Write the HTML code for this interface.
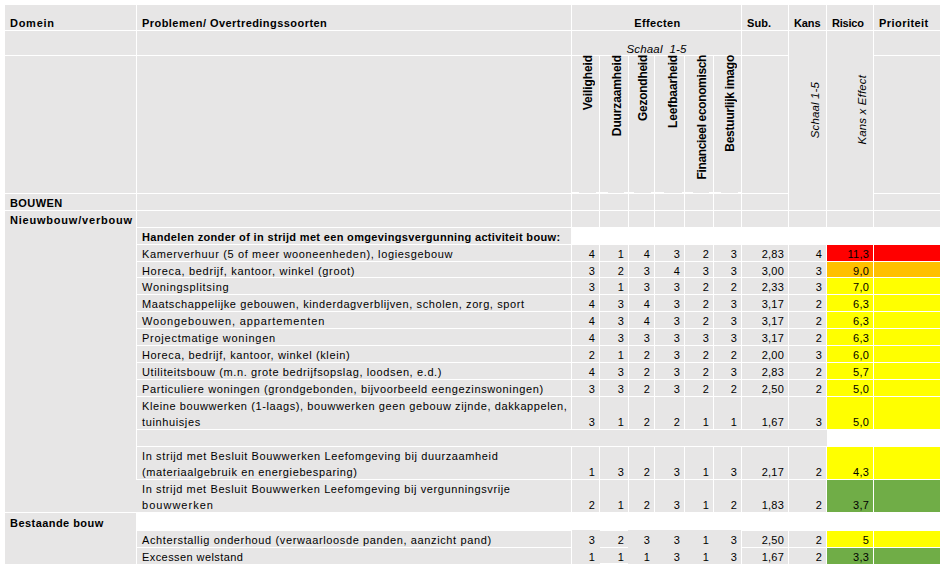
<!DOCTYPE html>
<html><head><meta charset="utf-8"><title>Risicoanalyse</title>
<style>
html,body{margin:0;padding:0;background:#fff}
body{width:943px;height:567px;position:relative;overflow:hidden;font-family:"Liberation Sans",sans-serif;font-size:11px;color:#000}
.r{position:absolute}
.t{position:absolute;white-space:nowrap;line-height:16px;height:16px;letter-spacing:0.62px}
.b{font-weight:bold;letter-spacing:0.45px}
.i{font-style:italic;font-size:11.5px;letter-spacing:0.03px}
.c{text-align:center}
.n{text-align:right;letter-spacing:0.2px}
.v{writing-mode:vertical-rl;transform:rotate(180deg);width:16px;height:auto;line-height:16px;font-size:12px}
.v.i{font-size:11.5px}
</style></head><body>
<div class="r" style="left:5px;top:5px;width:131px;height:25px;background:#e7e6e6"></div>
<div class="r" style="left:137px;top:5px;width:434px;height:25px;background:#e7e6e6"></div>
<div class="r" style="left:742px;top:5px;width:46px;height:25px;background:#e7e6e6"></div>
<div class="r" style="left:874px;top:5px;width:66px;height:25px;background:#e7e6e6"></div>
<div class="r" style="left:5px;top:31px;width:131px;height:24px;background:#e7e6e6"></div>
<div class="r" style="left:137px;top:31px;width:434px;height:24px;background:#e7e6e6"></div>
<div class="r" style="left:742px;top:31px;width:46px;height:24px;background:#e7e6e6"></div>
<div class="r" style="left:874px;top:31px;width:66px;height:24px;background:#e7e6e6"></div>
<div class="r" style="left:5px;top:56px;width:131px;height:137px;background:#e7e6e6"></div>
<div class="r" style="left:137px;top:56px;width:434px;height:137px;background:#e7e6e6"></div>
<div class="r" style="left:742px;top:56px;width:46px;height:137px;background:#e7e6e6"></div>
<div class="r" style="left:874px;top:56px;width:66px;height:137px;background:#e7e6e6"></div>
<div class="r" style="left:572px;top:5px;width:169px;height:25px;background:#e7e6e6"></div>
<div class="r" style="left:572px;top:31px;width:169px;height:24px;background:#e7e6e6"></div>
<div class="r" style="left:572px;top:56px;width:27px;height:137px;background:#e7e6e6"></div>
<div class="r" style="left:600px;top:56px;width:28px;height:137px;background:#e7e6e6"></div>
<div class="r" style="left:629px;top:56px;width:25px;height:137px;background:#e7e6e6"></div>
<div class="r" style="left:655px;top:56px;width:29px;height:137px;background:#e7e6e6"></div>
<div class="r" style="left:685px;top:56px;width:28px;height:137px;background:#e7e6e6"></div>
<div class="r" style="left:714px;top:56px;width:27px;height:137px;background:#e7e6e6"></div>
<div class="r" style="left:789px;top:5px;width:37px;height:25px;background:#e7e6e6"></div>
<div class="r" style="left:827px;top:5px;width:46px;height:25px;background:#e7e6e6"></div>
<div class="r" style="left:789px;top:31px;width:37px;height:179px;background:#e7e6e6"></div>
<div class="r" style="left:827px;top:31px;width:46px;height:179px;background:#e7e6e6"></div>
<div class="r" style="left:5px;top:194px;width:131px;height:16px;background:#e7e6e6"></div>
<div class="r" style="left:137px;top:194px;width:434px;height:16px;background:#e7e6e6"></div>
<div class="r" style="left:572px;top:194px;width:27px;height:16px;background:#e7e6e6"></div>
<div class="r" style="left:600px;top:194px;width:28px;height:16px;background:#e7e6e6"></div>
<div class="r" style="left:629px;top:194px;width:25px;height:16px;background:#e7e6e6"></div>
<div class="r" style="left:655px;top:194px;width:29px;height:16px;background:#e7e6e6"></div>
<div class="r" style="left:685px;top:194px;width:28px;height:16px;background:#e7e6e6"></div>
<div class="r" style="left:714px;top:194px;width:27px;height:16px;background:#e7e6e6"></div>
<div class="r" style="left:742px;top:194px;width:46px;height:16px;background:#e7e6e6"></div>
<div class="r" style="left:874px;top:194px;width:66px;height:16px;background:#e7e6e6"></div>
<div class="r" style="left:5px;top:211px;width:131px;height:16px;background:#e7e6e6"></div>
<div class="r" style="left:137px;top:211px;width:434px;height:16px;background:#e7e6e6"></div>
<div class="r" style="left:572px;top:211px;width:27px;height:16px;background:#e7e6e6"></div>
<div class="r" style="left:600px;top:211px;width:28px;height:16px;background:#e7e6e6"></div>
<div class="r" style="left:629px;top:211px;width:25px;height:16px;background:#e7e6e6"></div>
<div class="r" style="left:655px;top:211px;width:29px;height:16px;background:#e7e6e6"></div>
<div class="r" style="left:685px;top:211px;width:28px;height:16px;background:#e7e6e6"></div>
<div class="r" style="left:714px;top:211px;width:27px;height:16px;background:#e7e6e6"></div>
<div class="r" style="left:742px;top:211px;width:46px;height:16px;background:#e7e6e6"></div>
<div class="r" style="left:789px;top:211px;width:37px;height:16px;background:#e7e6e6"></div>
<div class="r" style="left:827px;top:211px;width:46px;height:16px;background:#e7e6e6"></div>
<div class="r" style="left:874px;top:211px;width:66px;height:16px;background:#e7e6e6"></div>
<div class="r" style="left:5px;top:211px;width:131px;height:301px;background:#e7e6e6"></div>
<div class="r" style="left:5px;top:513px;width:131px;height:51px;background:#e7e6e6"></div>
<div class="r" style="left:137px;top:228px;width:434px;height:16px;background:#e7e6e6"></div>
<div class="r" style="left:137px;top:245px;width:434px;height:16px;background:#e7e6e6"></div>
<div class="r" style="left:572px;top:245px;width:27px;height:16px;background:#e7e6e6"></div>
<div class="r" style="left:600px;top:245px;width:28px;height:16px;background:#e7e6e6"></div>
<div class="r" style="left:629px;top:245px;width:25px;height:16px;background:#e7e6e6"></div>
<div class="r" style="left:655px;top:245px;width:29px;height:16px;background:#e7e6e6"></div>
<div class="r" style="left:685px;top:245px;width:28px;height:16px;background:#e7e6e6"></div>
<div class="r" style="left:714px;top:245px;width:27px;height:16px;background:#e7e6e6"></div>
<div class="r" style="left:742px;top:245px;width:46px;height:16px;background:#e7e6e6"></div>
<div class="r" style="left:789px;top:245px;width:37px;height:16px;background:#e7e6e6"></div>
<div class="r" style="left:827px;top:245px;width:46px;height:16px;background:#ff0000"></div>
<div class="r" style="left:874px;top:245px;width:66px;height:16px;background:#ff0000"></div>
<div class="r" style="left:137px;top:262px;width:434px;height:15px;background:#e7e6e6"></div>
<div class="r" style="left:572px;top:262px;width:27px;height:15px;background:#e7e6e6"></div>
<div class="r" style="left:600px;top:262px;width:28px;height:15px;background:#e7e6e6"></div>
<div class="r" style="left:629px;top:262px;width:25px;height:15px;background:#e7e6e6"></div>
<div class="r" style="left:655px;top:262px;width:29px;height:15px;background:#e7e6e6"></div>
<div class="r" style="left:685px;top:262px;width:28px;height:15px;background:#e7e6e6"></div>
<div class="r" style="left:714px;top:262px;width:27px;height:15px;background:#e7e6e6"></div>
<div class="r" style="left:742px;top:262px;width:46px;height:15px;background:#e7e6e6"></div>
<div class="r" style="left:789px;top:262px;width:37px;height:15px;background:#e7e6e6"></div>
<div class="r" style="left:827px;top:262px;width:46px;height:15px;background:#ffc000"></div>
<div class="r" style="left:874px;top:262px;width:66px;height:15px;background:#ffc000"></div>
<div class="r" style="left:137px;top:278px;width:434px;height:16px;background:#e7e6e6"></div>
<div class="r" style="left:572px;top:278px;width:27px;height:16px;background:#e7e6e6"></div>
<div class="r" style="left:600px;top:278px;width:28px;height:16px;background:#e7e6e6"></div>
<div class="r" style="left:629px;top:278px;width:25px;height:16px;background:#e7e6e6"></div>
<div class="r" style="left:655px;top:278px;width:29px;height:16px;background:#e7e6e6"></div>
<div class="r" style="left:685px;top:278px;width:28px;height:16px;background:#e7e6e6"></div>
<div class="r" style="left:714px;top:278px;width:27px;height:16px;background:#e7e6e6"></div>
<div class="r" style="left:742px;top:278px;width:46px;height:16px;background:#e7e6e6"></div>
<div class="r" style="left:789px;top:278px;width:37px;height:16px;background:#e7e6e6"></div>
<div class="r" style="left:827px;top:278px;width:46px;height:16px;background:#ffff00"></div>
<div class="r" style="left:874px;top:278px;width:66px;height:16px;background:#ffff00"></div>
<div class="r" style="left:137px;top:295px;width:434px;height:16px;background:#e7e6e6"></div>
<div class="r" style="left:572px;top:295px;width:27px;height:16px;background:#e7e6e6"></div>
<div class="r" style="left:600px;top:295px;width:28px;height:16px;background:#e7e6e6"></div>
<div class="r" style="left:629px;top:295px;width:25px;height:16px;background:#e7e6e6"></div>
<div class="r" style="left:655px;top:295px;width:29px;height:16px;background:#e7e6e6"></div>
<div class="r" style="left:685px;top:295px;width:28px;height:16px;background:#e7e6e6"></div>
<div class="r" style="left:714px;top:295px;width:27px;height:16px;background:#e7e6e6"></div>
<div class="r" style="left:742px;top:295px;width:46px;height:16px;background:#e7e6e6"></div>
<div class="r" style="left:789px;top:295px;width:37px;height:16px;background:#e7e6e6"></div>
<div class="r" style="left:827px;top:295px;width:46px;height:16px;background:#ffff00"></div>
<div class="r" style="left:874px;top:295px;width:66px;height:16px;background:#ffff00"></div>
<div class="r" style="left:137px;top:312px;width:434px;height:16px;background:#e7e6e6"></div>
<div class="r" style="left:572px;top:312px;width:27px;height:16px;background:#e7e6e6"></div>
<div class="r" style="left:600px;top:312px;width:28px;height:16px;background:#e7e6e6"></div>
<div class="r" style="left:629px;top:312px;width:25px;height:16px;background:#e7e6e6"></div>
<div class="r" style="left:655px;top:312px;width:29px;height:16px;background:#e7e6e6"></div>
<div class="r" style="left:685px;top:312px;width:28px;height:16px;background:#e7e6e6"></div>
<div class="r" style="left:714px;top:312px;width:27px;height:16px;background:#e7e6e6"></div>
<div class="r" style="left:742px;top:312px;width:46px;height:16px;background:#e7e6e6"></div>
<div class="r" style="left:789px;top:312px;width:37px;height:16px;background:#e7e6e6"></div>
<div class="r" style="left:827px;top:312px;width:46px;height:16px;background:#ffff00"></div>
<div class="r" style="left:874px;top:312px;width:66px;height:16px;background:#ffff00"></div>
<div class="r" style="left:137px;top:329px;width:434px;height:16px;background:#e7e6e6"></div>
<div class="r" style="left:572px;top:329px;width:27px;height:16px;background:#e7e6e6"></div>
<div class="r" style="left:600px;top:329px;width:28px;height:16px;background:#e7e6e6"></div>
<div class="r" style="left:629px;top:329px;width:25px;height:16px;background:#e7e6e6"></div>
<div class="r" style="left:655px;top:329px;width:29px;height:16px;background:#e7e6e6"></div>
<div class="r" style="left:685px;top:329px;width:28px;height:16px;background:#e7e6e6"></div>
<div class="r" style="left:714px;top:329px;width:27px;height:16px;background:#e7e6e6"></div>
<div class="r" style="left:742px;top:329px;width:46px;height:16px;background:#e7e6e6"></div>
<div class="r" style="left:789px;top:329px;width:37px;height:16px;background:#e7e6e6"></div>
<div class="r" style="left:827px;top:329px;width:46px;height:16px;background:#ffff00"></div>
<div class="r" style="left:874px;top:329px;width:66px;height:16px;background:#ffff00"></div>
<div class="r" style="left:137px;top:346px;width:434px;height:16px;background:#e7e6e6"></div>
<div class="r" style="left:572px;top:346px;width:27px;height:16px;background:#e7e6e6"></div>
<div class="r" style="left:600px;top:346px;width:28px;height:16px;background:#e7e6e6"></div>
<div class="r" style="left:629px;top:346px;width:25px;height:16px;background:#e7e6e6"></div>
<div class="r" style="left:655px;top:346px;width:29px;height:16px;background:#e7e6e6"></div>
<div class="r" style="left:685px;top:346px;width:28px;height:16px;background:#e7e6e6"></div>
<div class="r" style="left:714px;top:346px;width:27px;height:16px;background:#e7e6e6"></div>
<div class="r" style="left:742px;top:346px;width:46px;height:16px;background:#e7e6e6"></div>
<div class="r" style="left:789px;top:346px;width:37px;height:16px;background:#e7e6e6"></div>
<div class="r" style="left:827px;top:346px;width:46px;height:16px;background:#ffff00"></div>
<div class="r" style="left:874px;top:346px;width:66px;height:16px;background:#ffff00"></div>
<div class="r" style="left:137px;top:363px;width:434px;height:16px;background:#e7e6e6"></div>
<div class="r" style="left:572px;top:363px;width:27px;height:16px;background:#e7e6e6"></div>
<div class="r" style="left:600px;top:363px;width:28px;height:16px;background:#e7e6e6"></div>
<div class="r" style="left:629px;top:363px;width:25px;height:16px;background:#e7e6e6"></div>
<div class="r" style="left:655px;top:363px;width:29px;height:16px;background:#e7e6e6"></div>
<div class="r" style="left:685px;top:363px;width:28px;height:16px;background:#e7e6e6"></div>
<div class="r" style="left:714px;top:363px;width:27px;height:16px;background:#e7e6e6"></div>
<div class="r" style="left:742px;top:363px;width:46px;height:16px;background:#e7e6e6"></div>
<div class="r" style="left:789px;top:363px;width:37px;height:16px;background:#e7e6e6"></div>
<div class="r" style="left:827px;top:363px;width:46px;height:16px;background:#ffff00"></div>
<div class="r" style="left:874px;top:363px;width:66px;height:16px;background:#ffff00"></div>
<div class="r" style="left:137px;top:380px;width:434px;height:16px;background:#e7e6e6"></div>
<div class="r" style="left:572px;top:380px;width:27px;height:16px;background:#e7e6e6"></div>
<div class="r" style="left:600px;top:380px;width:28px;height:16px;background:#e7e6e6"></div>
<div class="r" style="left:629px;top:380px;width:25px;height:16px;background:#e7e6e6"></div>
<div class="r" style="left:655px;top:380px;width:29px;height:16px;background:#e7e6e6"></div>
<div class="r" style="left:685px;top:380px;width:28px;height:16px;background:#e7e6e6"></div>
<div class="r" style="left:714px;top:380px;width:27px;height:16px;background:#e7e6e6"></div>
<div class="r" style="left:742px;top:380px;width:46px;height:16px;background:#e7e6e6"></div>
<div class="r" style="left:789px;top:380px;width:37px;height:16px;background:#e7e6e6"></div>
<div class="r" style="left:827px;top:380px;width:46px;height:16px;background:#ffff00"></div>
<div class="r" style="left:874px;top:380px;width:66px;height:16px;background:#ffff00"></div>
<div class="r" style="left:137px;top:397px;width:434px;height:32px;background:#e7e6e6"></div>
<div class="r" style="left:572px;top:397px;width:27px;height:32px;background:#e7e6e6"></div>
<div class="r" style="left:600px;top:397px;width:28px;height:32px;background:#e7e6e6"></div>
<div class="r" style="left:629px;top:397px;width:25px;height:32px;background:#e7e6e6"></div>
<div class="r" style="left:655px;top:397px;width:29px;height:32px;background:#e7e6e6"></div>
<div class="r" style="left:685px;top:397px;width:28px;height:32px;background:#e7e6e6"></div>
<div class="r" style="left:714px;top:397px;width:27px;height:32px;background:#e7e6e6"></div>
<div class="r" style="left:742px;top:397px;width:46px;height:32px;background:#e7e6e6"></div>
<div class="r" style="left:789px;top:397px;width:37px;height:32px;background:#e7e6e6"></div>
<div class="r" style="left:827px;top:397px;width:46px;height:32px;background:#ffff00"></div>
<div class="r" style="left:874px;top:397px;width:66px;height:32px;background:#ffff00"></div>
<div class="r" style="left:137px;top:447px;width:434px;height:32px;background:#e7e6e6"></div>
<div class="r" style="left:572px;top:447px;width:27px;height:32px;background:#e7e6e6"></div>
<div class="r" style="left:600px;top:447px;width:28px;height:32px;background:#e7e6e6"></div>
<div class="r" style="left:629px;top:447px;width:25px;height:32px;background:#e7e6e6"></div>
<div class="r" style="left:655px;top:447px;width:29px;height:32px;background:#e7e6e6"></div>
<div class="r" style="left:685px;top:447px;width:28px;height:32px;background:#e7e6e6"></div>
<div class="r" style="left:714px;top:447px;width:27px;height:32px;background:#e7e6e6"></div>
<div class="r" style="left:742px;top:447px;width:46px;height:32px;background:#e7e6e6"></div>
<div class="r" style="left:789px;top:447px;width:37px;height:32px;background:#e7e6e6"></div>
<div class="r" style="left:827px;top:447px;width:46px;height:32px;background:#ffff00"></div>
<div class="r" style="left:874px;top:447px;width:66px;height:32px;background:#ffff00"></div>
<div class="r" style="left:137px;top:480px;width:434px;height:32px;background:#e7e6e6"></div>
<div class="r" style="left:572px;top:480px;width:27px;height:32px;background:#e7e6e6"></div>
<div class="r" style="left:600px;top:480px;width:28px;height:32px;background:#e7e6e6"></div>
<div class="r" style="left:629px;top:480px;width:25px;height:32px;background:#e7e6e6"></div>
<div class="r" style="left:655px;top:480px;width:29px;height:32px;background:#e7e6e6"></div>
<div class="r" style="left:685px;top:480px;width:28px;height:32px;background:#e7e6e6"></div>
<div class="r" style="left:714px;top:480px;width:27px;height:32px;background:#e7e6e6"></div>
<div class="r" style="left:742px;top:480px;width:46px;height:32px;background:#e7e6e6"></div>
<div class="r" style="left:789px;top:480px;width:37px;height:32px;background:#e7e6e6"></div>
<div class="r" style="left:827px;top:480px;width:46px;height:32px;background:#70ad47"></div>
<div class="r" style="left:874px;top:480px;width:66px;height:32px;background:#70ad47"></div>
<div class="r" style="left:137px;top:531px;width:434px;height:16px;background:#e7e6e6"></div>
<div class="r" style="left:572px;top:531px;width:27px;height:16px;background:#e7e6e6"></div>
<div class="r" style="left:600px;top:531px;width:28px;height:16px;background:#e7e6e6"></div>
<div class="r" style="left:629px;top:531px;width:25px;height:16px;background:#e7e6e6"></div>
<div class="r" style="left:655px;top:531px;width:29px;height:16px;background:#e7e6e6"></div>
<div class="r" style="left:685px;top:531px;width:28px;height:16px;background:#e7e6e6"></div>
<div class="r" style="left:714px;top:531px;width:27px;height:16px;background:#e7e6e6"></div>
<div class="r" style="left:742px;top:531px;width:46px;height:16px;background:#e7e6e6"></div>
<div class="r" style="left:789px;top:531px;width:37px;height:16px;background:#e7e6e6"></div>
<div class="r" style="left:827px;top:531px;width:46px;height:16px;background:#ffff00"></div>
<div class="r" style="left:874px;top:531px;width:66px;height:16px;background:#ffff00"></div>
<div class="r" style="left:137px;top:548px;width:434px;height:16px;background:#e7e6e6"></div>
<div class="r" style="left:572px;top:548px;width:27px;height:16px;background:#e7e6e6"></div>
<div class="r" style="left:600px;top:548px;width:28px;height:16px;background:#e7e6e6"></div>
<div class="r" style="left:629px;top:548px;width:25px;height:16px;background:#e7e6e6"></div>
<div class="r" style="left:655px;top:548px;width:29px;height:16px;background:#e7e6e6"></div>
<div class="r" style="left:685px;top:548px;width:28px;height:16px;background:#e7e6e6"></div>
<div class="r" style="left:714px;top:548px;width:27px;height:16px;background:#e7e6e6"></div>
<div class="r" style="left:742px;top:548px;width:46px;height:16px;background:#e7e6e6"></div>
<div class="r" style="left:789px;top:548px;width:37px;height:16px;background:#e7e6e6"></div>
<div class="r" style="left:827px;top:548px;width:46px;height:16px;background:#70ad47"></div>
<div class="r" style="left:874px;top:548px;width:66px;height:16px;background:#70ad47"></div>
<div class="r" style="left:137px;top:430px;width:689px;height:16px;background:#e7e6e6"></div>
<div class="r" style="left:826px;top:430px;width:1px;height:16px;background:#e7e6e6"></div>
<div class="r" style="left:136px;top:480px;width:1px;height:32px;background:#e7e6e6"></div>
<div class="r" style="left:572px;top:530px;width:169px;height:34px;background:#e7e6e6"></div>
<div class="r" style="left:600px;top:530px;width:28px;height:1px;background:#fff"></div>
<div class="r" style="left:600px;top:547px;width:28px;height:1px;background:#fff"></div>
<div class="r" style="left:600px;top:563px;width:28px;height:1px;background:#fff"></div>
<div class="r" style="left:572px;top:192px;width:7px;height:1px;background:#fff"></div>
<div class="r" style="left:596px;top:192px;width:3px;height:1px;background:#fff"></div>
<div class="r" style="left:600px;top:192px;width:8px;height:1px;background:#fff"></div>
<div class="r" style="left:624px;top:192px;width:4px;height:1px;background:#fff"></div>
<div class="r" style="left:629px;top:192px;width:5px;height:1px;background:#fff"></div>
<div class="r" style="left:651px;top:192px;width:3px;height:1px;background:#fff"></div>
<div class="r" style="left:655px;top:192px;width:9px;height:1px;background:#fff"></div>
<div class="r" style="left:682px;top:192px;width:2px;height:1px;background:#fff"></div>
<div class="r" style="left:685px;top:192px;width:8px;height:1px;background:#fff"></div>
<div class="r" style="left:709px;top:192px;width:4px;height:1px;background:#fff"></div>
<div class="r" style="left:714px;top:192px;width:7px;height:1px;background:#fff"></div>
<div class="r" style="left:738px;top:192px;width:3px;height:1px;background:#fff"></div>
<div class="t b" style="left:10px;top:15px;letter-spacing:0.73px">Domein</div>
<div class="t b" style="left:142px;top:15px">Problemen/ Overtredingssoorten</div>
<div class="t b c" style="left:573px;width:169px;top:15px;letter-spacing:0.36px">Effecten</div>
<div class="t i c" style="left:572px;width:169px;top:41px;letter-spacing:0.17px">Schaal&nbsp; 1-5</div>
<div class="t b" style="left:747px;top:15px;letter-spacing:0.1px">Sub.</div>
<div class="t b" style="left:794px;top:15px;letter-spacing:-0.1px">Kans</div>
<div class="t b" style="left:832px;top:15px;letter-spacing:-0.2px">Risico</div>
<div class="t b" style="left:879px;top:15px">Prioriteit</div>
<div class="t b" style="left:10px;top:195px;letter-spacing:0.43px">BOUWEN</div>
<div class="t b" style="left:10px;top:212px;letter-spacing:0.79px">Nieuwbouw/verbouw</div>
<div class="t b" style="left:10px;top:515px">Bestaande bouw</div>
<div class="t b" style="left:142px;top:229px;letter-spacing:0.34px">Handelen zonder of in strijd met een omgevingsvergunning activiteit bouw:</div>
<div class="t " style="left:142px;top:246px;letter-spacing:0.645px">Kamerverhuur (5 of meer wooneenheden), logiesgebouw</div>
<div class="t n " style="left:572px;width:23px;top:246px">4</div>
<div class="t n " style="left:600px;width:24px;top:246px">1</div>
<div class="t n " style="left:629px;width:21px;top:246px">4</div>
<div class="t n " style="left:655px;width:25px;top:246px">3</div>
<div class="t n " style="left:685px;width:24px;top:246px">2</div>
<div class="t n " style="left:714px;width:23px;top:246px">3</div>
<div class="t n " style="left:742px;width:42px;top:246px">2,83</div>
<div class="t n " style="left:789px;width:33px;top:246px">4</div>
<div class="t n " style="left:827px;width:42px;top:246px">11,3</div>
<div class="t " style="left:142px;top:263px;letter-spacing:0.68px">Horeca, bedrijf, kantoor, winkel (groot)</div>
<div class="t n " style="left:572px;width:23px;top:263px">3</div>
<div class="t n " style="left:600px;width:24px;top:263px">2</div>
<div class="t n " style="left:629px;width:21px;top:263px">3</div>
<div class="t n " style="left:655px;width:25px;top:263px">4</div>
<div class="t n " style="left:685px;width:24px;top:263px">3</div>
<div class="t n " style="left:714px;width:23px;top:263px">3</div>
<div class="t n " style="left:742px;width:42px;top:263px">3,00</div>
<div class="t n " style="left:789px;width:33px;top:263px">3</div>
<div class="t n " style="left:827px;width:42px;top:263px">9,0</div>
<div class="t " style="left:142px;top:279px;letter-spacing:0.7px">Woningsplitsing</div>
<div class="t n " style="left:572px;width:23px;top:279px">3</div>
<div class="t n " style="left:600px;width:24px;top:279px">1</div>
<div class="t n " style="left:629px;width:21px;top:279px">3</div>
<div class="t n " style="left:655px;width:25px;top:279px">3</div>
<div class="t n " style="left:685px;width:24px;top:279px">2</div>
<div class="t n " style="left:714px;width:23px;top:279px">2</div>
<div class="t n " style="left:742px;width:42px;top:279px">2,33</div>
<div class="t n " style="left:789px;width:33px;top:279px">3</div>
<div class="t n " style="left:827px;width:42px;top:279px">7,0</div>
<div class="t " style="left:142px;top:296px;letter-spacing:0.6px">Maatschappelijke gebouwen, kinderdagverblijven, scholen, zorg, sport</div>
<div class="t n " style="left:572px;width:23px;top:296px">4</div>
<div class="t n " style="left:600px;width:24px;top:296px">3</div>
<div class="t n " style="left:629px;width:21px;top:296px">4</div>
<div class="t n " style="left:655px;width:25px;top:296px">3</div>
<div class="t n " style="left:685px;width:24px;top:296px">2</div>
<div class="t n " style="left:714px;width:23px;top:296px">3</div>
<div class="t n " style="left:742px;width:42px;top:296px">3,17</div>
<div class="t n " style="left:789px;width:33px;top:296px">2</div>
<div class="t n " style="left:827px;width:42px;top:296px">6,3</div>
<div class="t " style="left:142px;top:313px;letter-spacing:0.885px">Woongebouwen, appartementen</div>
<div class="t n " style="left:572px;width:23px;top:313px">4</div>
<div class="t n " style="left:600px;width:24px;top:313px">3</div>
<div class="t n " style="left:629px;width:21px;top:313px">4</div>
<div class="t n " style="left:655px;width:25px;top:313px">3</div>
<div class="t n " style="left:685px;width:24px;top:313px">2</div>
<div class="t n " style="left:714px;width:23px;top:313px">3</div>
<div class="t n " style="left:742px;width:42px;top:313px">3,17</div>
<div class="t n " style="left:789px;width:33px;top:313px">2</div>
<div class="t n " style="left:827px;width:42px;top:313px">6,3</div>
<div class="t " style="left:142px;top:330px;letter-spacing:0.75px">Projectmatige woningen</div>
<div class="t n " style="left:572px;width:23px;top:330px">4</div>
<div class="t n " style="left:600px;width:24px;top:330px">3</div>
<div class="t n " style="left:629px;width:21px;top:330px">3</div>
<div class="t n " style="left:655px;width:25px;top:330px">3</div>
<div class="t n " style="left:685px;width:24px;top:330px">3</div>
<div class="t n " style="left:714px;width:23px;top:330px">3</div>
<div class="t n " style="left:742px;width:42px;top:330px">3,17</div>
<div class="t n " style="left:789px;width:33px;top:330px">2</div>
<div class="t n " style="left:827px;width:42px;top:330px">6,3</div>
<div class="t " style="left:142px;top:347px">Horeca, bedrijf, kantoor, winkel (klein)</div>
<div class="t n " style="left:572px;width:23px;top:347px">2</div>
<div class="t n " style="left:600px;width:24px;top:347px">1</div>
<div class="t n " style="left:629px;width:21px;top:347px">2</div>
<div class="t n " style="left:655px;width:25px;top:347px">3</div>
<div class="t n " style="left:685px;width:24px;top:347px">2</div>
<div class="t n " style="left:714px;width:23px;top:347px">2</div>
<div class="t n " style="left:742px;width:42px;top:347px">2,00</div>
<div class="t n " style="left:789px;width:33px;top:347px">3</div>
<div class="t n " style="left:827px;width:42px;top:347px">6,0</div>
<div class="t " style="left:142px;top:364px">Utiliteitsbouw (m.n. grote bedrijfsopslag, loodsen, e.d.)</div>
<div class="t n " style="left:572px;width:23px;top:364px">4</div>
<div class="t n " style="left:600px;width:24px;top:364px">3</div>
<div class="t n " style="left:629px;width:21px;top:364px">2</div>
<div class="t n " style="left:655px;width:25px;top:364px">3</div>
<div class="t n " style="left:685px;width:24px;top:364px">2</div>
<div class="t n " style="left:714px;width:23px;top:364px">3</div>
<div class="t n " style="left:742px;width:42px;top:364px">2,83</div>
<div class="t n " style="left:789px;width:33px;top:364px">2</div>
<div class="t n " style="left:827px;width:42px;top:364px">5,7</div>
<div class="t " style="left:142px;top:381px;letter-spacing:0.628px">Particuliere woningen (grondgebonden, bijvoorbeeld eengezinswoningen)</div>
<div class="t n " style="left:572px;width:23px;top:381px">3</div>
<div class="t n " style="left:600px;width:24px;top:381px">3</div>
<div class="t n " style="left:629px;width:21px;top:381px">2</div>
<div class="t n " style="left:655px;width:25px;top:381px">3</div>
<div class="t n " style="left:685px;width:24px;top:381px">2</div>
<div class="t n " style="left:714px;width:23px;top:381px">2</div>
<div class="t n " style="left:742px;width:42px;top:381px">2,50</div>
<div class="t n " style="left:789px;width:33px;top:381px">2</div>
<div class="t n " style="left:827px;width:42px;top:381px">5,0</div>
<div class="t " style="left:142px;top:398px;letter-spacing:0.6px">Kleine bouwwerken (1-laags), bouwwerken geen gebouw zijnde, dakkappelen,</div>
<div class="t " style="left:142px;top:414px">tuinhuisjes</div>
<div class="t n " style="left:572px;width:23px;top:414px">3</div>
<div class="t n " style="left:600px;width:24px;top:414px">1</div>
<div class="t n " style="left:629px;width:21px;top:414px">2</div>
<div class="t n " style="left:655px;width:25px;top:414px">2</div>
<div class="t n " style="left:685px;width:24px;top:414px">1</div>
<div class="t n " style="left:714px;width:23px;top:414px">1</div>
<div class="t n " style="left:742px;width:42px;top:414px">1,67</div>
<div class="t n " style="left:789px;width:33px;top:414px">3</div>
<div class="t n " style="left:827px;width:42px;top:414px">5,0</div>
<div class="t " style="left:142px;top:448px">In strijd met Besluit Bouwwerken Leefomgeving bij duurzaamheid</div>
<div class="t " style="left:142px;top:464px">(materiaalgebruik en energiebesparing)</div>
<div class="t n " style="left:572px;width:23px;top:464px">1</div>
<div class="t n " style="left:600px;width:24px;top:464px">3</div>
<div class="t n " style="left:629px;width:21px;top:464px">2</div>
<div class="t n " style="left:655px;width:25px;top:464px">3</div>
<div class="t n " style="left:685px;width:24px;top:464px">1</div>
<div class="t n " style="left:714px;width:23px;top:464px">3</div>
<div class="t n " style="left:742px;width:42px;top:464px">2,17</div>
<div class="t n " style="left:789px;width:33px;top:464px">2</div>
<div class="t n " style="left:827px;width:42px;top:464px">4,3</div>
<div class="t " style="left:142px;top:481px;letter-spacing:0.61px">In strijd met Besluit Bouwwerken Leefomgeving bij vergunningsvrije</div>
<div class="t " style="left:142px;top:497px;letter-spacing:1.02px">bouwwerken</div>
<div class="t n " style="left:572px;width:23px;top:497px">2</div>
<div class="t n " style="left:600px;width:24px;top:497px">1</div>
<div class="t n " style="left:629px;width:21px;top:497px">2</div>
<div class="t n " style="left:655px;width:25px;top:497px">3</div>
<div class="t n " style="left:685px;width:24px;top:497px">1</div>
<div class="t n " style="left:714px;width:23px;top:497px">2</div>
<div class="t n " style="left:742px;width:42px;top:497px">1,83</div>
<div class="t n " style="left:789px;width:33px;top:497px">2</div>
<div class="t n " style="left:827px;width:42px;top:497px">3,7</div>
<div class="t " style="left:142px;top:532px">Achterstallig onderhoud (verwaarloosde panden, aanzicht pand)</div>
<div class="t n " style="left:572px;width:23px;top:532px">3</div>
<div class="t n " style="left:600px;width:24px;top:532px">2</div>
<div class="t n " style="left:629px;width:21px;top:532px">3</div>
<div class="t n " style="left:655px;width:25px;top:532px">3</div>
<div class="t n " style="left:685px;width:24px;top:532px">1</div>
<div class="t n " style="left:714px;width:23px;top:532px">3</div>
<div class="t n " style="left:742px;width:42px;top:532px">2,50</div>
<div class="t n " style="left:789px;width:33px;top:532px">2</div>
<div class="t n " style="left:827px;width:42px;top:532px">5</div>
<div class="t " style="left:142px;top:549px;letter-spacing:0.42px">Excessen welstand</div>
<div class="t n " style="left:572px;width:23px;top:549px">1</div>
<div class="t n " style="left:600px;width:24px;top:549px">1</div>
<div class="t n " style="left:629px;width:21px;top:549px">1</div>
<div class="t n " style="left:655px;width:25px;top:549px">3</div>
<div class="t n " style="left:685px;width:24px;top:549px">1</div>
<div class="t n " style="left:714px;width:23px;top:549px">3</div>
<div class="t n " style="left:742px;width:42px;top:549px">1,67</div>
<div class="t n " style="left:789px;width:33px;top:549px">2</div>
<div class="t n " style="left:827px;width:42px;top:549px">3,3</div>
<div class="t v b" style="left:580px;top:55px;letter-spacing:-0.08px">Veiligheid</div>
<div class="t v b" style="left:609px;top:55px;letter-spacing:-0.13px">Duurzaamheid</div>
<div class="t v b" style="left:635px;top:55px;letter-spacing:-0.27px">Gezondheid</div>
<div class="t v b" style="left:665px;top:55px;letter-spacing:-0.15px">Leefbaarheid</div>
<div class="t v b" style="left:694px;top:55px;letter-spacing:-0.36px">Financieel economisch</div>
<div class="t v b" style="left:722px;top:55px;letter-spacing:-0.23px">Bestuurlijk imago</div>
<div class="t v i" style="left:807px;top:82px;letter-spacing:0.12px">Schaal 1-5</div>
<div class="t v i" style="left:854px;top:75px;letter-spacing:0.14px">Kans x Effect</div>
</body></html>
